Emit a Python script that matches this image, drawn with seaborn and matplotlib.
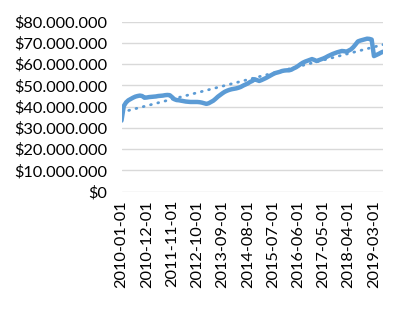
import numpy as np
import pandas as pd
import matplotlib
matplotlib.use("Agg")
import matplotlib.pyplot as plt
import seaborn as sns
from matplotlib.ticker import FuncFormatter

# Monthly values (millions of $), 2010-01 .. 2019-07
months = pd.date_range("2010-01-01", periods=115, freq="MS").strftime("%Y-%m-%d").tolist()
values_m = [
    33.4, 40.3, 42.0, 43.0, 43.6, 44.2, 44.7, 45.0, 45.2, 45.0,
    44.2, 44.3, 44.5, 44.6, 44.7, 44.8, 45.0, 45.1, 45.2, 45.4,
    45.5, 45.4, 44.5, 43.5, 43.1, 43.0, 42.8, 42.6, 42.4, 42.3,
    42.2, 42.2, 42.2, 42.2, 42.1, 41.9, 41.6, 41.3, 41.6, 42.2,
    42.8, 43.7, 44.7, 45.5, 46.3, 47.0, 47.5, 47.9, 48.2, 48.4,
    48.6, 48.9, 49.3, 49.9, 50.4, 50.9, 51.6, 52.1, 52.9, 52.5,
    52.1, 52.5, 53.0, 53.5, 54.1, 54.7, 55.3, 55.8, 56.1, 56.4,
    56.8, 57.0, 57.1, 57.1, 57.4, 58.0, 58.5, 59.2, 60.0, 60.7,
    61.2, 61.6, 62.0, 62.4, 62.0, 61.5, 61.9, 62.3, 62.7, 63.2,
    63.8, 64.3, 64.8, 65.2, 65.6, 65.9, 66.2, 66.1, 65.9, 66.4,
    67.0, 68.0, 69.3, 70.7, 71.1, 71.4, 71.7, 72.0, 71.9, 71.6,
    63.8, 64.3, 64.8, 65.4, 65.9,
]
tick_labels = ["2010-01-01", "2010-12-01", "2011-11-01", "2012-10-01",
               "2013-09-01", "2014-08-01", "2015-07-01", "2016-06-01",
               "2017-05-01", "2018-04-01", "2019-03-01"]
y_ticks_m = [0, 10, 20, 30, 40, 50, 60, 70, 80]

values = np.array(values_m) * 1e6
idx = np.arange(len(values))
df = pd.DataFrame({"idx": idx, "value": values, "month": months})
coef = np.polyfit(idx, values, 1)
df["trend"] = np.polyval(coef, idx)

sns.set_theme(style="white")
plt.rcParams["font.family"] = ["Lato", "DejaVu Sans"]

fig = plt.figure(figsize=(4.05, 3.10), dpi=100)
ax = fig.add_axes([0.300, 0.382, 0.646, 0.548])

blue = "#5B9BD5"
sns.lineplot(data=df, x="idx", y="value", ax=ax, color=blue, linewidth=3.2,
             solid_capstyle="round", solid_joinstyle="round")
sns.lineplot(data=df, x="idx", y="trend", ax=ax, color=blue, linewidth=2.0,
             linestyle=(0, (0.3, 2.4)), dash_capstyle="round")

ax.set_xlim(0, len(values) - 1)
ax.set_ylim(0, 80e6)
ax.set_yticks([v * 1e6 for v in y_ticks_m])
ax.yaxis.set_major_formatter(FuncFormatter(
    lambda v, p: "$" + f"{int(round(v)):,}".replace(",", ".")))
tick_pos = [months.index(t) for t in tick_labels]
ax.set_xticks(tick_pos)
ax.set_xticklabels(tick_labels, rotation=90)
ax.tick_params(axis="both", length=0, labelsize=11.8, colors="#000000", pad=6)
ax.tick_params(axis="y", pad=10)
ax.grid(axis="y", color="#D9D9D9", linewidth=1.0)
ax.set_axisbelow(True)
for s in ax.spines.values():
    s.set_visible(False)
ax.set_xlabel("")
ax.set_ylabel("")

fig.savefig("out.png", dpi=100)
